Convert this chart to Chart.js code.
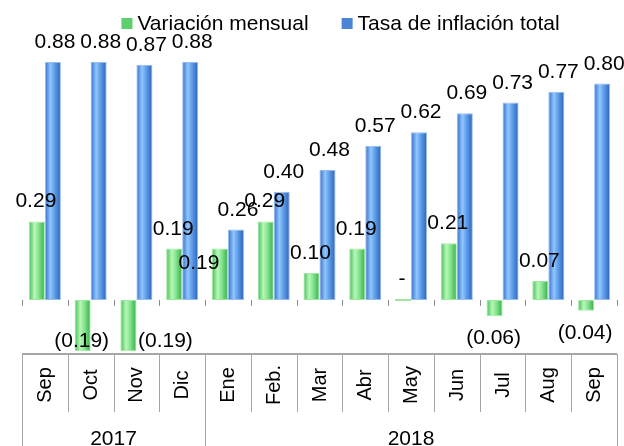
<!DOCTYPE html>
<html>
<head>
<meta charset="utf-8">
<script src="https://cdn.jsdelivr.net/npm/chart.js@4.4.1/dist/chart.umd.min.js"></script>
<style>
  html, body { margin: 0; padding: 0; background: #ffffff; }
  #wrap { width: 624px; height: 446px; }
</style>
</head>
<body>
<div id="wrap"><canvas id="c" width="624" height="446"></canvas></div>
<script>
// ---- DATA ----
const categories = ['Sep', 'Oct', 'Nov', 'Dic', 'Ene', 'Feb.', 'Mar', 'Abr', 'May', 'Jun', 'Jul', 'Aug', 'Sep'];
const yearLabels = ['2017', '2018'];
const yearMonthCounts = [4, 9];
const seriesNames = ['Variación mensual', 'Tasa de inflación total'];
const variacionMensual = [0.29, -0.19, -0.19, 0.19, 0.19, 0.29, 0.10, 0.19, 0.00, 0.21, -0.06, 0.07, -0.04];
const tasaInflacionTotal = [0.88, 0.88, 0.87, 0.88, 0.26, 0.40, 0.48, 0.57, 0.62, 0.69, 0.73, 0.77, 0.80];

// ---- STYLE ----
const FONT = '"Liberation Sans", Arial, sans-serif';
const legendColors = ['#5cd06c', '#4a84d4'];
const gradStops = [
  [[0, '#3dbd52'], [0.35, '#b8f7b8'], [0.6, '#86e58f'], [1, '#34ad48']],
  [[0, '#2f6dc9'], [0.35, '#92c6ff'], [0.6, '#5f9ee9'], [1, '#2a62b8']]
];
// manual label nudges (dataset, index) -> pixel offsets, like the hand-placed labels in the original
const labelNudges = { '0-2': { dx: 38, dy: 0 }, '0-4': { dx: -20, dy: 34 } };

function fmt(v) {
  if (v === 0) return '-';
  if (v < 0) return '(' + Math.abs(v).toFixed(2) + ')';
  return v.toFixed(2);
}

function barGradient(c) {
  const chart = c.chart;
  const el = chart.getDatasetMeta(c.datasetIndex).data[c.dataIndex];
  if (!el || !isFinite(el.x) || !isFinite(el.width)) return legendColors[c.datasetIndex];
  const w = el.width;
  const g = chart.ctx.createLinearGradient(el.x - w / 2, 0, el.x + w / 2, 0);
  gradStops[c.datasetIndex].forEach(s => g.addColorStop(s[0], s[1]));
  return g;
}

const drawPlugin = {
  id: 'drawPlugin',
  beforeDatasetsDraw(chart) {
    const ctx = chart.ctx;
    chart.data.datasets.forEach((ds, di) => {
      const meta = chart.getDatasetMeta(di);
      meta.data.forEach(el => {
        const w = el.width;
        const g = ctx.createLinearGradient(el.x - w / 2, 0, el.x + w / 2, 0);
        gradStops[di].forEach(s => g.addColorStop(s[0], s[1]));
        const o = Object.assign({}, el.options);
        o.backgroundColor = g;
        el.options = o;
      });
    });
  },
  afterDatasetsDraw(chart) {
    const ctx = chart.ctx;
    const xs = chart.scales.x, ys = chart.scales.y;
    const area = chart.chartArea;
    const n = categories.length;
    const catW = (area.right - area.left) / n;
    const zeroY = ys.getPixelForValue(0);
    const bottom = area.bottom;
    const H = chart.height;

    ctx.save();
    // zero-line tick marks
    ctx.strokeStyle = '#8c8c8c';
    ctx.lineWidth = 1;
    for (let i = 0; i <= n; i++) {
      const x = Math.round(area.left + i * catW) + 0.5;
      ctx.beginPath(); ctx.moveTo(x, zeroY); ctx.lineTo(x, zeroY + 6); ctx.stroke();
    }
    // axis line at bottom
    ctx.strokeStyle = '#a6a6a6';
    ctx.lineWidth = 2;
    ctx.beginPath(); ctx.moveTo(area.left, bottom); ctx.lineTo(area.right, bottom); ctx.stroke();
    // separators
    ctx.lineWidth = 1;
    const yearBounds = [0];
    let acc = 0;
    yearMonthCounts.forEach(c => { acc += c; yearBounds.push(acc); });
    for (let i = 0; i <= n; i++) {
      const x = Math.round(area.left + i * catW) + 0.5;
      const full = yearBounds.includes(i);
      ctx.beginPath(); ctx.moveTo(x, bottom); ctx.lineTo(x, full ? H : bottom + 58); ctx.stroke();
    }
    // month labels (rotated)
    ctx.fillStyle = '#000';
    ctx.font = '20px ' + FONT;
    ctx.textAlign = 'center';
    ctx.textBaseline = 'alphabetic';
    categories.forEach((lab, i) => {
      const x = xs.getPixelForValue(i);
      ctx.save();
      ctx.translate(x + 6, bottom + 31);
      ctx.rotate(-Math.PI / 2);
      ctx.fillText(lab, 0, 0);
      ctx.restore();
    });
    // year labels
    ctx.font = '21px ' + FONT;
    yearLabels.forEach((lab, k) => {
      const x0 = area.left + yearBounds[k] * catW;
      const x1 = area.left + yearBounds[k + 1] * catW;
      ctx.fillText(lab, (x0 + x1) / 2, H - 1);
    });
    // data labels
    ctx.font = '21px ' + FONT;
    chart.data.datasets.forEach((ds, di) => {
      const meta = chart.getDatasetMeta(di);
      meta.data.forEach((el, i) => {
        const v = ds.data[i];
        const nud = labelNudges[di + '-' + i] || { dx: 0, dy: 0 };
        let x = el.x + (di === 1 ? 2 : -1) + nud.dx;
        let y;
        if (v > 0) y = el.y - 14;
        else if (v === 0) y = zeroY - 15;
        else y = Math.min(Math.max(el.y, el.base) + 28, bottom - 7);
        y += nud.dy;
        ctx.fillText(fmt(v), x, y);
      });
    });
    // legend
    ctx.font = '21px ' + FONT;
    ctx.textAlign = 'left';
    const box = 11, gapBox = 5, gapItem = 33;
    const widths = seriesNames.map(s => ctx.measureText(s).width);
    const total = widths.reduce((a, w) => a + box + gapBox + w, 0) + gapItem * (seriesNames.length - 1);
    let lx = 340.5 - total / 2;
    seriesNames.forEach((s, k) => {
      ctx.fillStyle = legendColors[k];
      ctx.fillRect(lx, 18, box, box);
      ctx.fillStyle = '#000';
      ctx.fillText(s, lx + box + gapBox, 30);
      lx += box + gapBox + widths[k] + gapItem;
    });
    ctx.restore();
  }
};

new Chart(document.getElementById('c'), {
  type: 'bar',
  data: {
    labels: categories,
    datasets: [
      { label: seriesNames[0], data: variacionMensual, backgroundColor: barGradient,
        borderColor: 'rgba(150,230,150,0.9)', borderWidth: 1, borderSkipped: false, minBarLength: 2,
        categoryPercentage: 0.7, barPercentage: 1.0 },
      { label: seriesNames[1], data: tasaInflacionTotal, backgroundColor: barGradient,
        borderColor: 'rgba(140,180,235,0.9)', borderWidth: 1, borderSkipped: false,
        categoryPercentage: 0.7, barPercentage: 1.0 }
    ]
  },
  options: {
    responsive: false,
    animation: false,
    devicePixelRatio: 1,
    layout: { padding: { left: 22, right: 7, top: 29.5, bottom: 0 } },
    plugins: { legend: { display: false }, tooltip: { enabled: false } },
    scales: {
      x: {
        display: true,
        grid: { display: false },
        border: { display: false },
        ticks: { display: false },
        afterFit(scale) { scale.height = 92; }
      },
      y: { display: false, min: -0.2, max: 1.0 }
    }
  },
  plugins: [drawPlugin]
});
</script>
</body>
</html>
